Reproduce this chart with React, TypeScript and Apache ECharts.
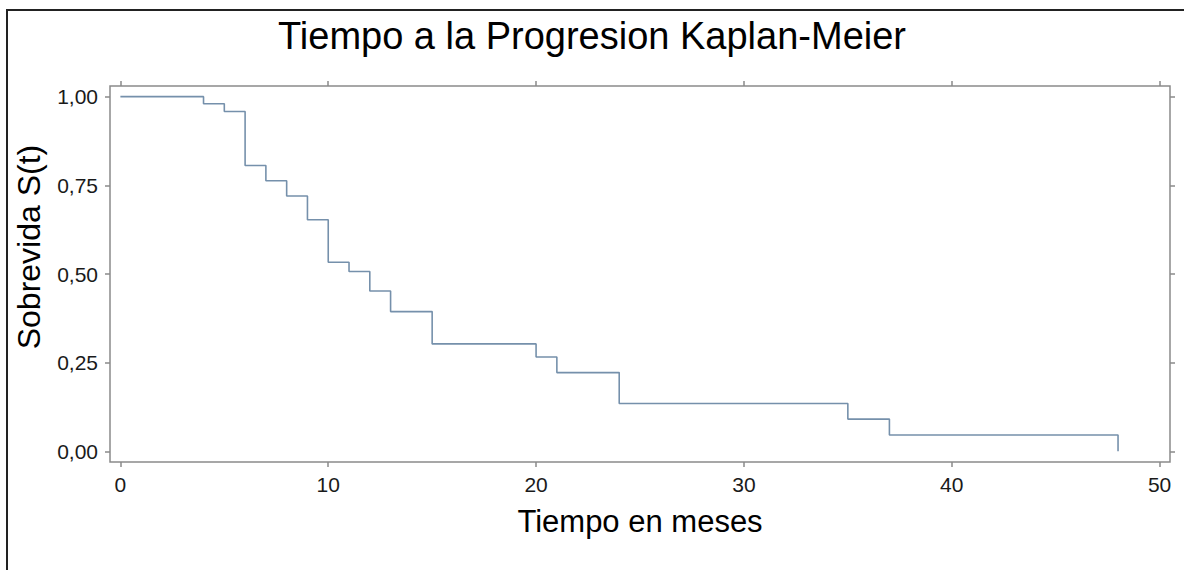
import React, { useEffect, useRef } from "react";
import * as echarts from "echarts";

const titleText = "Tiempo a la Progresion Kaplan-Meier";
const xName = "Tiempo en meses";
const yName = "Sobrevida S(t)";

const times = [0, 4, 5, 6, 7, 8, 9, 10, 11, 12, 13, 15, 20, 21, 24, 35, 37, 48];
const survival = [1.0, 0.98, 0.958, 0.806, 0.763, 0.72, 0.653, 0.533, 0.507, 0.452, 0.394, 0.303, 0.266, 0.222, 0.135, 0.091, 0.046, 0.0];

const xTicks = [0, 10, 20, 30, 40, 50];
const yTicks = [0, 0.25, 0.5, 0.75, 1.0];

export default function App() {
  const ref = useRef<HTMLDivElement>(null);
  useEffect(() => {
    if (!ref.current) return;
    const chart = echarts.init(ref.current, undefined, { renderer: "svg" });
    const font = "'Liberation Sans', Arial, sans-serif";
    const axisGray = "#8a8a8a";
    const data = times.map((t, i) => [t, survival[i]]);
    const fmtY = (v: number) => v.toFixed(2).replace(".", ",");
    const tickStyle = { color: axisGray, width: 1.5 };
    chart.setOption({
      animation: false,
      backgroundColor: "#ffffff",
      title: {
        text: titleText,
        left: "center",
        top: 12,
        textStyle: { fontFamily: font, fontSize: 38, fontWeight: "normal", color: "#000" },
      },
      graphic: [
        {
          type: "rect",
          z: -1,
          shape: { x: 7, y: 10, width: 1400, height: 800 },
          style: { fill: "none", stroke: "#222", lineWidth: 2 },
        },
        {
          type: "text",
          x: 29,
          y: 247,
          rotation: Math.PI / 2,
          style: {
            text: yName,
            fontFamily: font,
            fontSize: 32,
            fill: "#000",
            align: "center",
            verticalAlign: "middle",
          },
        },
      ],
      grid: {
        left: 110,
        top: 86,
        right: 14,
        bottom: 108,
        show: true,
        borderColor: axisGray,
        borderWidth: 1.5,
        backgroundColor: "transparent",
      },
      xAxis: [
        {
          type: "value",
          min: -0.5,
          max: 50.5,
          position: "bottom",
          name: xName,
          nameLocation: "middle",
          nameGap: 44,
          nameTextStyle: { fontFamily: font, fontSize: 31, color: "#000" },
          axisLine: { show: false, onZero: false },
          splitLine: { show: false },
          axisTick: { show: true, length: 5, customValues: xTicks, lineStyle: tickStyle },
          axisLabel: {
            customValues: xTicks,
            margin: 12,
            fontFamily: font,
            fontSize: 21,
            color: "#1a1a1a",
          },
        },
        {
          type: "value",
          min: -0.5,
          max: 50.5,
          position: "top",
          axisLine: { show: false, onZero: false },
          splitLine: { show: false },
          axisTick: { show: true, length: 5, customValues: xTicks, lineStyle: tickStyle },
          axisLabel: { show: false },
        },
      ],
      yAxis: [
        {
          type: "value",
          min: -0.03,
          max: 1.03,
          position: "left",
          axisLine: { show: false, onZero: false },
          splitLine: { show: false },
          axisTick: { show: true, length: 5, customValues: yTicks, lineStyle: tickStyle },
          axisLabel: {
            customValues: yTicks,
            margin: 12,
            fontFamily: font,
            fontSize: 21,
            color: "#1a1a1a",
            formatter: (v: number) => fmtY(v),
          },
        },
        {
          type: "value",
          min: -0.03,
          max: 1.03,
          position: "right",
          axisLine: { show: false, onZero: false },
          splitLine: { show: false },
          axisTick: { show: true, length: 5, customValues: yTicks, lineStyle: tickStyle },
          axisLabel: { show: false },
        },
      ],
      series: [
        {
          type: "line",
          step: "end",
          data,
          xAxisIndex: 0,
          yAxisIndex: 0,
          showSymbol: false,
          symbol: "none",
          lineStyle: { color: "#7590ab", width: 1.6 },
        },
      ],
    });
    return () => chart.dispose();
  }, []);
  return (
    <div
      ref={ref}
      style={{ position: "fixed", left: 0, top: 0, width: 1184, height: 570, background: "#fff" }}
    />
  );
}
